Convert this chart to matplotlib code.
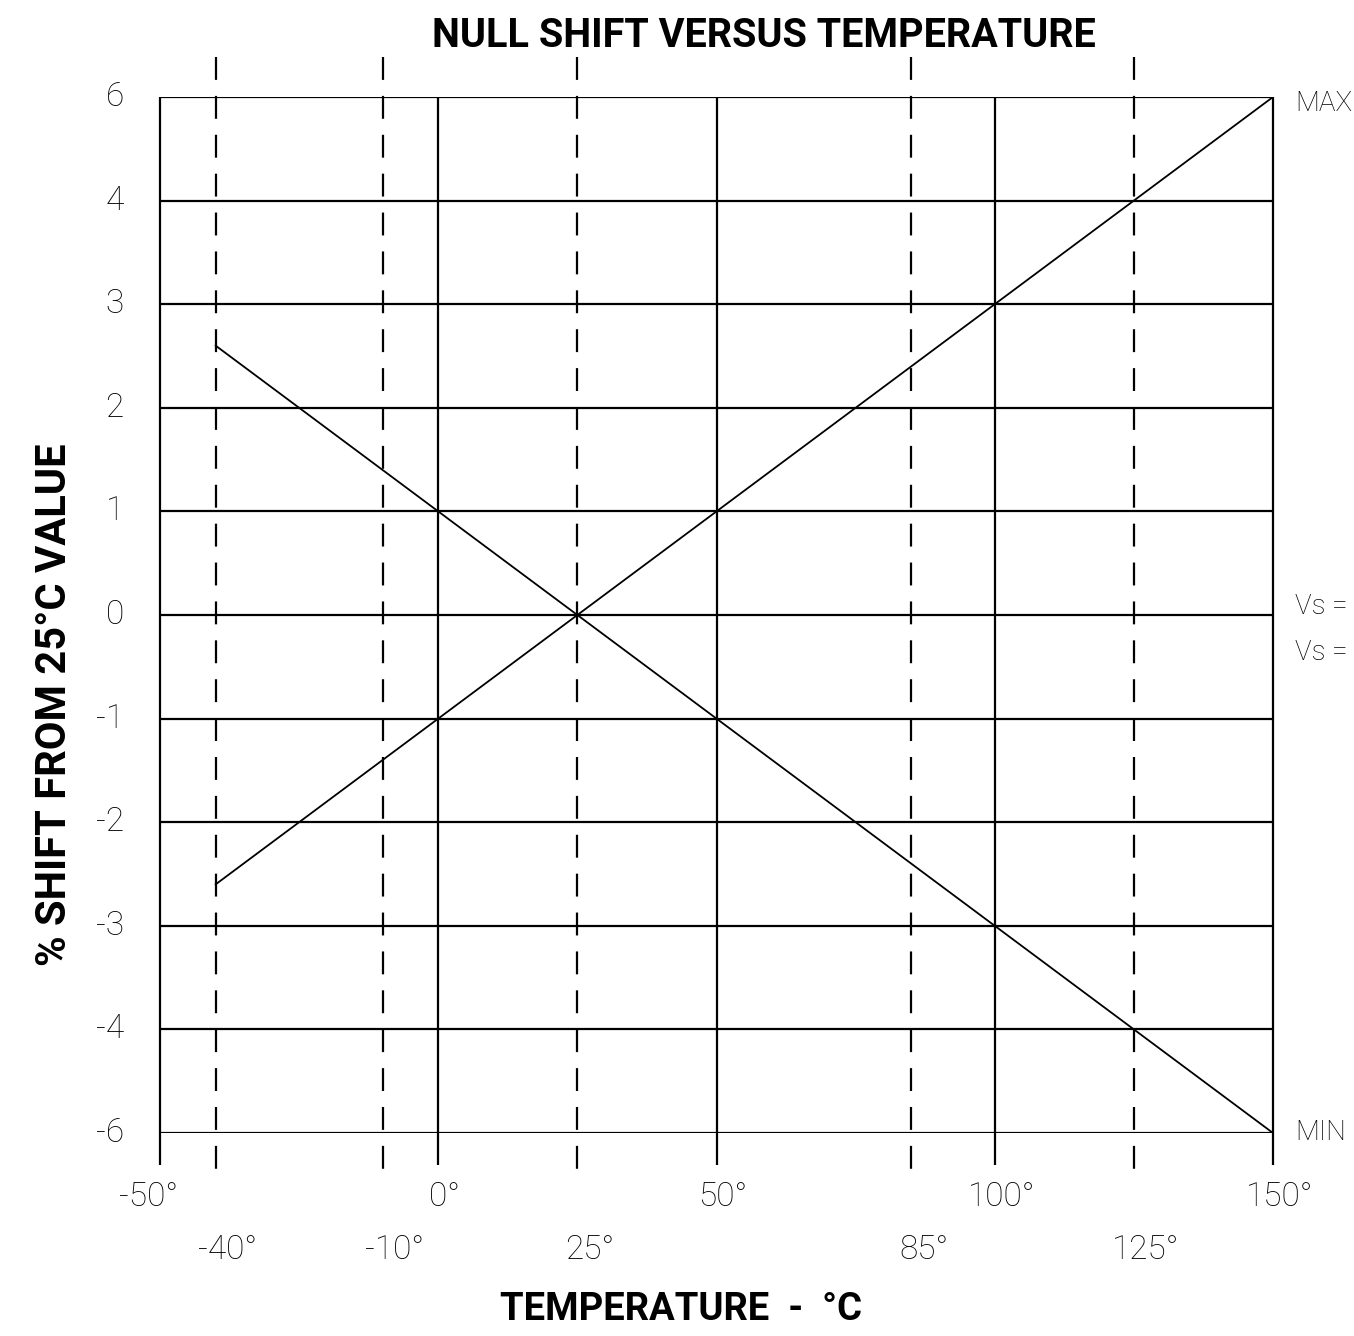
import numpy as np
import matplotlib.pyplot as plt

# y axis is not linear in value: rows are evenly spaced, labels jump 4 -> 6
y_labels = ["-6", "-4", "-3", "-2", "-1", "0", "1", "2", "3", "4", "6"]
y_rows = np.arange(-5, 6)

# temperature grid
solid_temps = [-50, 0, 50, 100, 150]
dashed_temps = [-40, -10, 25, 85, 125]
row1_labels = ["-50°", "0°", "50°", "100°", "150°"]
row2_labels = ["-40°", "-10°", "25°", "85°", "125°"]

# curves (y in row units)
max_temp = [-40, 150]
max_shift = [-2.6, 5]
min_temp = [-40, 150]
min_shift = [2.6, -5]

thin = dict(family=["Roboto", "DejaVu Sans"], fontweight="light", fontsize=24, color="black")
bold = dict(family=["Roboto", "DejaVu Sans"], fontweight="bold", color="black")

fig = plt.figure(figsize=(13.54, 13.36), dpi=100)
ax = fig.add_axes([160 / 1354, 1 - 1133 / 1336, 1113 / 1354, 1036 / 1336])
ax.set_xlim(-50, 150)
ax.set_ylim(-5, 5)
ax.axis("off")

# horizontal grid
for r in y_rows:
    ax.plot([-50, 150], [r, r], color="black", lw=1.6, solid_capstyle="butt")

# solid verticals (run a bit below the bottom edge)
for t in solid_temps:
    ax.plot([t, t], [5, -5.31], color="black", lw=1.6, clip_on=False, solid_capstyle="butt")

# dashed verticals (stick out above and below)
for t in dashed_temps:
    ax.plot([t, t], [5.386, -5.36], color="black", lw=1.6, clip_on=False,
            dashes=(10.3, 7.2), dash_capstyle="butt")

# curves
ax.plot(max_temp, max_shift, color="black", lw=1.3)
ax.plot(min_temp, min_shift, color="black", lw=1.3)

# tick labels
for r, lab in zip(y_rows, y_labels):
    ax.text(-56.5, r, lab, ha="right", va="center", **thin)
for t, lab in zip(solid_temps, row1_labels):
    dx = -2 if t == -50 else 1.2
    ax.text(t + dx, -5.62, lab, ha="center", va="center", **thin)
for t, lab in zip(dashed_temps, row2_labels):
    ax.text(t + 2.2, -6.13, lab, ha="center", va="center", **thin)

# right side notes
right = dict(thin, fontsize=20)
ax.text(154, 4.94, "MAX", ha="left", va="center", **right)
ax.text(154, 0.08, "Vs =", ha="left", va="center", **right)
ax.text(154, -0.36, "Vs =", ha="left", va="center", **right)
ax.text(154, -5.0, "MIN", ha="left", va="center", **right)

fig.text(764 / 1354, 1 - 36 / 1336, "NULL SHIFT VERSUS TEMPERATURE",
         ha="center", va="center", fontsize=28.5, **bold)
fig.text(681 / 1354, 1 - 1310 / 1336, "TEMPERATURE  -  °C",
         ha="center", va="center", fontsize=27.5, **bold)
fig.text(55 / 1354, 1 - 705 / 1336, "% SHIFT FROM 25°C VALUE",
         ha="center", va="center", rotation=90, fontsize=30, **bold)

fig.savefig("out.png", dpi=100, facecolor="white")
